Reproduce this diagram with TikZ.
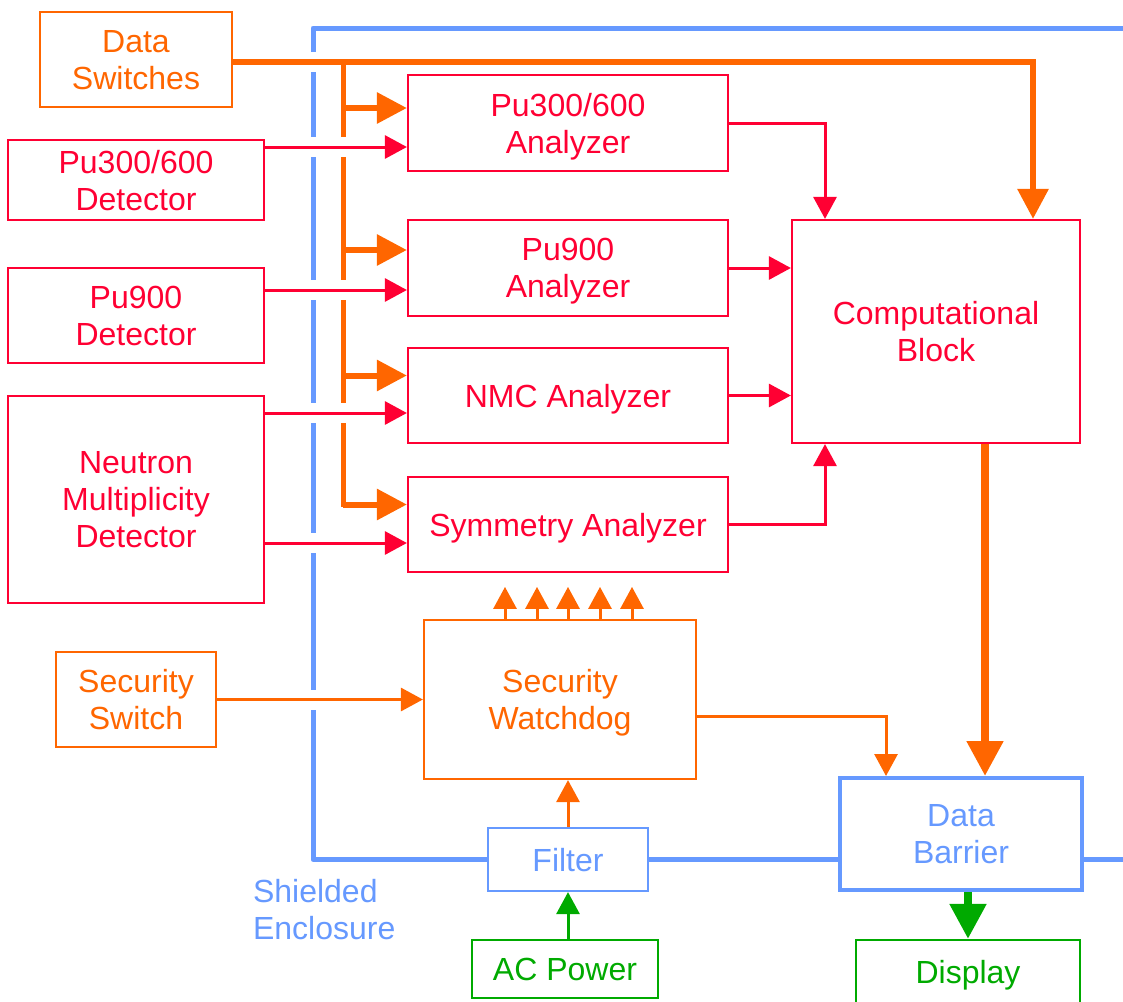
\documentclass[tikz,border=0pt]{standalone}
\usepackage{fontspec}
\setmainfont{Liberation Sans}
\usetikzlibrary{arrows.meta}
\definecolor{orng}{RGB}{255,102,0}
\definecolor{rd}{RGB}{255,0,51}
\definecolor{blu}{RGB}{102,153,255}
\definecolor{grn}{RGB}{0,170,0}
\begin{document}
\begin{tikzpicture}[x=0.5pt, y=-0.5pt, font=\fontsize{16}{18.5}\selectfont,
  bx/.style={draw, line width=1.1pt, align=center, inner sep=0pt, text depth=0pt},
  rbx/.style={bx, draw=rd, text=rd},
  obx/.style={bx, draw=orng, text=orng},
  gbx/.style={bx, draw=grn, text=grn},
  bbx/.style={bx, draw=blu, text=blu},
  gap/.style={preaction={draw=white, line width=10pt, -}},
  thin/.style={line width=1.5pt, -{Triangle[length=11pt,width=11.5pt]}},
  rar/.style={thin, draw=rd},
  oar/.style={thin, draw=orng},
  gar/.style={thin, draw=grn},
  obig/.style={draw=orng, line width=3pt, -{Triangle[length=15pt,width=15pt]}},
  huge/.style={line width=4pt, -{Triangle[length=17.5pt,width=17.5pt]}},
  encl/.style={draw=blu, line width=2.5pt, line join=round},
]
  \useasboundingbox (0,0) rectangle (1123,1001);
  \node[obx, minimum width=96pt, minimum height=47.5pt] (dsw) at (136,59.5) {Data\\Switches};
  \node[rbx, minimum width=128pt, minimum height=40pt] (det1) at (136,180) {Pu300/600\\Detector};
  \node[rbx, minimum width=128pt, minimum height=47.5pt] (det2) at (136,315.5) {Pu900\\Detector};
  \node[rbx, minimum width=128pt, minimum height=103.5pt] (det3) at (136,499.5) {Neutron\\Multiplicity\\Detector};
  \node[rbx, minimum width=160pt, minimum height=48pt] (ana1) at (568,123) {Pu300/600\\Analyzer};
  \node[rbx, minimum width=160pt, minimum height=48pt] (ana2) at (568,268) {Pu900\\Analyzer};
  \node[rbx, minimum width=160pt, minimum height=47.5pt] (ana3) at (568,395.5) {NMC Analyzer};
  \node[rbx, minimum width=160pt, minimum height=47.5pt] (ana4) at (568,524.5) {Symmetry Analyzer};
  \node[rbx, minimum width=144pt, minimum height=111.5pt] (comp) at (936,331.5) {Computational\\Block};
  \node[obx, minimum width=80pt, minimum height=47.5pt] (ssw) at (136,699.5) {Security\\Switch};
  \node[obx, minimum width=136pt, minimum height=79.5pt] (wdog) at (560,699.5) {Security\\Watchdog};
  \node[bbx, minimum width=80pt, minimum height=31.5pt] (filt) at (568,859.5) {Filter};
  \node[bbx, line width=2pt, minimum width=121pt, minimum height=56pt] (barr) at (961,834) {Data\\Barrier};
  \node[gbx, minimum width=93pt, minimum height=29pt] (acp) at (565,969) {AC Power};
  \node[gbx, minimum width=112pt, minimum height=32pt] (disp) at (968,972) {Display};
  \node[text=blu, align=left, anchor=west] (shl) at (246,910) {Shielded\\Enclosure};

  \coordinate (ne) at (1123,28);
  \coordinate (nw) at (313,28);
  \coordinate (sw) at (313,859.5);
  \coordinate (se) at (1123,859.5);
  \draw[encl] (ne) -- (nw) -- (sw) -- (filt.west);
  \draw[encl] (filt.east) -- (filt.east -| barr.west);
  \draw[encl] (barr.east |- filt.east) -- (se);

  \coordinate (bustop) at (343,62);
  \coordinate (cin) at ([xshift=48.5pt]comp.north);
  \draw[obig, gap] (dsw.east |- bustop) -| (cin);
  \coordinate (b1) at ([yshift=7.5pt]ana1.west);
  \coordinate (b2) at ([yshift=9pt]ana2.west);
  \coordinate (b3) at ([yshift=10pt]ana3.west);
  \coordinate (b4) at ([yshift=10pt]ana4.west);
  \draw[orng, line width=2.5pt, line cap=rect] (bustop) -- (bustop |- b4);
  \foreach \b in {b1,b2,b3,b4}
    \draw[obig] (bustop |- \b) -- (\b);

  \coordinate (r1) at ([yshift=-12pt]ana1.west);
  \coordinate (r2) at ([yshift=-11pt]ana2.west);
  \coordinate (r3) at ([yshift=-8.75pt]ana3.west);
  \coordinate (r4) at ([yshift=-9.25pt]ana4.west);
  \draw[rar, gap] (det1.east |- r1) -- (r1);
  \draw[rar, gap] (det2.east |- r2) -- (r2);
  \draw[rar, gap] (det3.east |- r3) -- (r3);
  \draw[rar, gap] (det3.east |- r4) -- (r4);

  \coordinate (c1) at ([xshift=-55.5pt]comp.north);
  \coordinate (c4) at ([xshift=-55.5pt]comp.south);
  \draw[rar] (ana1.east) -| (c1);
  \draw[rar] (ana2.east) -- (ana2.east -| comp.west);
  \draw[rar] (ana3.east) -- (ana3.east -| comp.west);
  \draw[rar] (ana4.east) -| (c4);

  \coordinate (c5) at ([xshift=24.5pt]comp.south);
  \draw[huge, draw=orng] (c5) -- (c5 |- barr.north);
  \coordinate (w1) at ([yshift=-8.25pt]wdog.east);
  \coordinate (bin) at ([xshift=-37.5pt]barr.north);
  \draw[oar] (w1) -| (bin);
  \draw[oar, gap] (ssw.east) -- (ssw.east -| wdog.west);
  \foreach \dx in {-27.5,-11.5,4,20,36}
    \draw[oar] ([xshift=\dx pt]wdog.north) -- ++(0,-32);
  \draw[oar] (filt.north) -- (filt.north |- wdog.south);
  \draw[gar] (filt.south |- acp.north) -- (filt.south);
  \draw[huge, draw=grn] (disp.north |- barr.south) -- (disp.north);
\end{tikzpicture}
\end{document}
